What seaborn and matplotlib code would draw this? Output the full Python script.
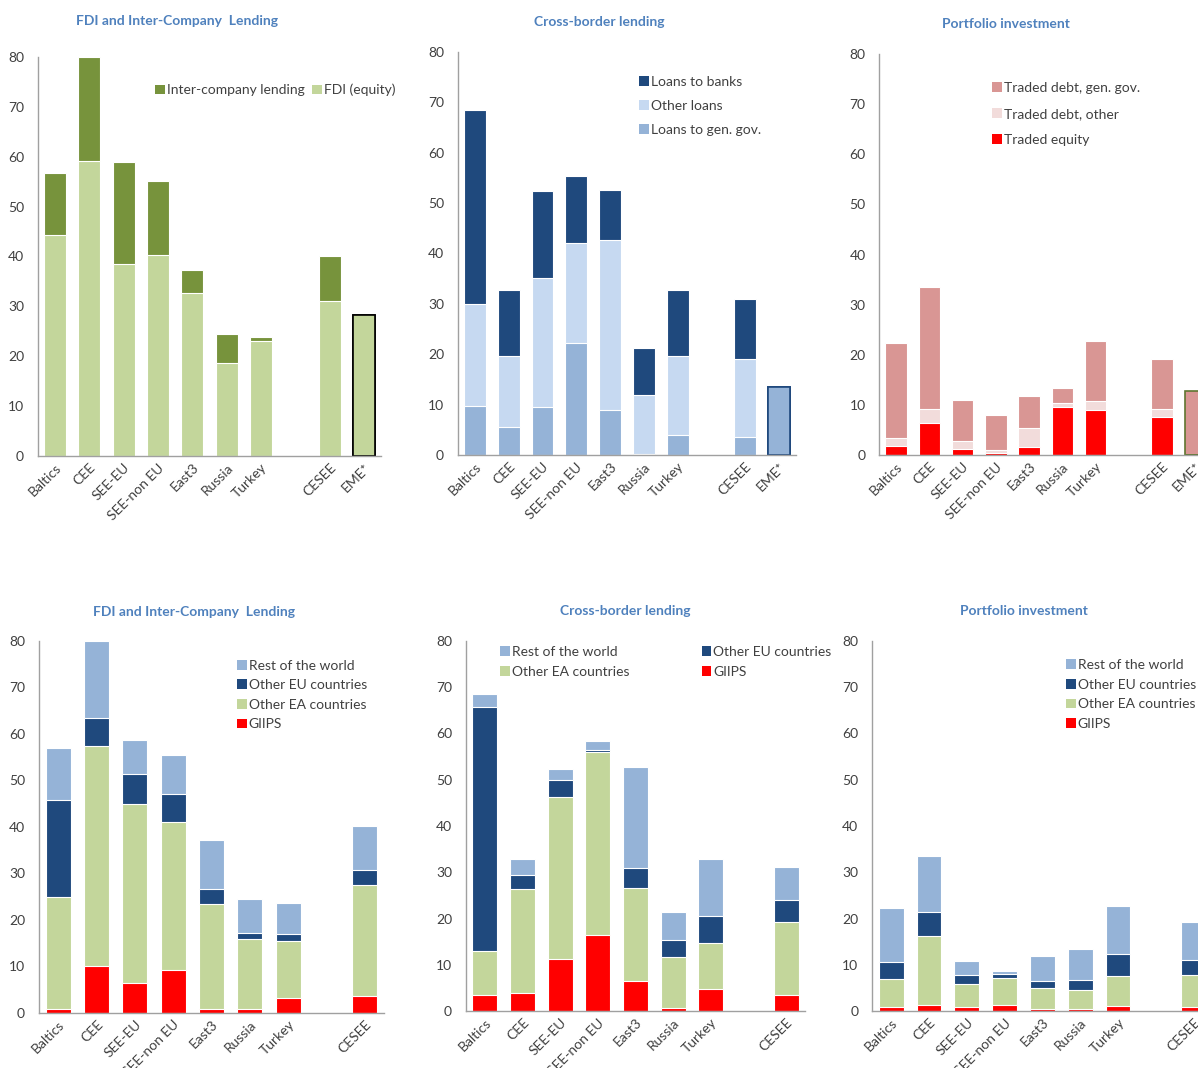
import numpy as np
import pandas as pd
import seaborn as sns
import matplotlib.pyplot as plt
from matplotlib.patches import Patch

sns.set_style("white")
plt.rcParams['font.family'] = ['Lato', 'DejaVu Sans']

# categories
cats_top = ["Baltics", "CEE", "SEE-EU", "SEE-non EU", "East3", "Russia", "Turkey", "CESEE", "EME*"]
cats_bot = ["Baltics", "CEE", "SEE-EU", "SEE-non EU", "East3", "Russia", "Turkey", "CESEE"]
order_top = ["Baltics", "CEE", "SEE-EU", "SEE-non EU", "East3", "Russia", "Turkey", " ", "CESEE", "EME*"]
order_bot = ["Baltics", "CEE", "SEE-EU", "SEE-non EU", "East3", "Russia", "Turkey", " ", "CESEE"]

# top row: by instrument
fdi_equity = [44.3, 59.2, 38.4, 40.3, 32.7, 18.6, 23.1, 31.0, 28.2]
inter_company = [12.5, 20.8, 20.6, 14.9, 4.6, 5.8, 0.7, 9.2, 0.0]

loans_gov = [9.8, 5.6, 9.5, 22.3, 8.9, 0.2, 4.0, 3.6, 13.5]
loans_other = [20.1, 14.1, 25.6, 19.7, 33.7, 11.7, 15.7, 15.4, 0.0]
loans_banks = [38.6, 13.1, 17.3, 13.3, 10.0, 9.4, 13.1, 11.9, 0.0]

traded_equity = [1.7, 6.3, 1.2, 0.3, 1.5, 9.5, 8.9, 7.5, 0.0]
debt_other = [1.7, 2.8, 1.6, 0.6, 3.8, 0.8, 1.9, 1.6, 0.0]
debt_gov = [18.9, 24.5, 8.2, 7.1, 6.5, 3.0, 11.9, 10.0, 12.8]

# bottom row: by creditor region
fdi_giips = [0.9, 10.0, 6.3, 9.2, 0.9, 0.9, 3.1, 3.7]
fdi_ea = [24.0, 47.5, 38.6, 31.8, 22.5, 15.0, 12.3, 23.8]
fdi_eu = [20.9, 5.9, 6.5, 6.1, 3.2, 1.3, 1.5, 3.2]
fdi_row = [11.1, 16.6, 7.4, 8.3, 10.5, 7.2, 6.8, 9.4]

cbl_giips = [3.4, 3.8, 11.2, 16.4, 6.5, 0.7, 4.7, 3.4]
cbl_ea = [9.6, 22.6, 35.1, 39.5, 20.1, 11.0, 9.9, 15.8]
cbl_eu = [52.7, 3.0, 3.6, 0.5, 4.4, 3.7, 6.0, 4.9]
cbl_row = [2.9, 3.5, 2.5, 1.9, 21.8, 5.9, 12.3, 7.0]

pi_giips = [0.8, 1.4, 0.8, 1.2, 0.4, 0.4, 1.0, 0.8]
pi_ea = [6.1, 14.9, 5.0, 6.0, 4.6, 4.1, 6.6, 7.0]
pi_eu = [3.7, 5.0, 2.0, 0.9, 1.5, 2.2, 4.8, 3.2]
pi_row = [11.6, 12.3, 3.0, 0.5, 5.5, 6.6, 10.3, 8.2]

C_LGREEN = "#C3D69B"
C_DGREEN = "#77933C"
C_NAVY = "#1F497D"
C_PALEBLUE = "#C6D9F1"
C_MIDBLUE = "#95B3D7"
C_PINK = "#D99694"
C_PALEPINK = "#F2DCDB"
C_RED = "#FF0000"
TITLE_C = "#4F81BD"
TEXT_C = "#404040"

W, H = 1198, 1068
fig = plt.figure(figsize=(W / 100, H / 100), dpi=100)


def px_ax(x0, x1, ytop, ybot):
    return fig.add_axes([x0 / W, 1 - ybot / H, (x1 - x0) / W, (ybot - ytop) / H])


def stacked(ax, cats, order, layers, colors, width):
    df = pd.DataFrame({"cat": cats})
    running = np.zeros(len(cats))
    tops = []
    for vals in layers:
        running = running + np.array(vals)
        tops.append(running.copy())
    # draw from the total down so each lower segment covers the one above
    for top, col in reversed(list(zip(tops, colors))):
        sns.barplot(x=df["cat"], y=top, order=order, color=col, saturation=1,
                    width=width, edgecolor="white", linewidth=0.8,
                    errorbar=None, ax=ax)


def style(ax, title, tx, ty):
    ax.set_ylim(0, 80)
    ax.set_yticks(range(0, 81, 10))
    ax.set_xlabel("")
    ax.set_ylabel("")
    for s in ["top", "right"]:
        ax.spines[s].set_visible(False)
    for s in ["left", "bottom"]:
        ax.spines[s].set_color("#A0A0A0")
        ax.spines[s].set_linewidth(1.0)
    ax.tick_params(axis="both", length=0, labelsize=10, colors=TEXT_C)
    ax.tick_params(axis="y", pad=10)
    ax.tick_params(axis="x", pad=4)
    labels = [t.get_text() for t in ax.get_xticklabels()]
    ax.set_xticks(range(len(labels)))
    ax.set_xticklabels(labels, rotation=45, ha="right", rotation_mode="anchor")
    fig.text(tx / W, 1 - ty / H, title, ha="center", va="center",
             fontsize=10, fontweight="bold", color=TITLE_C)


def legend(ax, items, cx, cy, ncol=1, spacing=0.6, colspace=0.6):
    handles = [Patch(facecolor=c, edgecolor="none", label=l) for l, c in items]
    ax.legend(handles=handles, loc="center left", bbox_to_anchor=(cx / W, 1 - cy / H),
              bbox_transform=fig.transFigure, frameon=False, ncol=ncol,
              handlelength=0.7, handleheight=0.7, handletextpad=0.15,
              labelspacing=spacing, columnspacing=colspace, borderpad=0,
              borderaxespad=0, fontsize=10, labelcolor=TEXT_C)


def outline_bar(ax, pos, color):
    for p in ax.patches:
        if abs(p.get_x() + p.get_width() / 2 - pos) < 0.05:
            p.set_edgecolor(color)
            p.set_linewidth(1.2)


# top-left
ax1 = px_ax(38, 381, 57, 456)
stacked(ax1, cats_top, order_top, [fdi_equity, inter_company], [C_LGREEN, C_DGREEN], 0.64)
style(ax1, "FDI and Inter-Company  Lending", 177, 21)
outline_bar(ax1, 9, "#000000")
legend(ax1, [("Inter-company lending", C_DGREEN), ("FDI (equity)", C_LGREEN)], 155, 90,
       ncol=2, colspace=0.55)

# top-middle
ax2 = px_ax(458, 796, 52, 455)
stacked(ax2, cats_top, order_top, [loans_gov, loans_other, loans_banks],
        [C_MIDBLUE, C_PALEBLUE, C_NAVY], 0.64)
style(ax2, "Cross-border lending", 599, 22)
outline_bar(ax2, 9, C_NAVY)
legend(ax2, [("Loans to banks", C_NAVY), ("Other loans", C_PALEBLUE),
             ("Loans to gen. gov.", C_MIDBLUE)], 639, 106, spacing=0.85)

# top-right
ax3 = px_ax(879.5, 1212, 54, 455)
stacked(ax3, cats_top, order_top, [traded_equity, debt_other, debt_gov],
        [C_RED, C_PALEPINK, C_PINK], 0.64)
style(ax3, "Portfolio investment", 1006, 24)
outline_bar(ax3, 9, "#5F7530")
legend(ax3, [("Traded debt, gen. gov.", C_PINK), ("Traded debt, other", C_PALEPINK),
             ("Traded equity", C_RED)], 992, 114, spacing=1.0)

region_items = [("Rest of the world", C_MIDBLUE), ("Other EU countries", C_NAVY),
                ("Other EA countries", C_LGREEN), ("GIIPS", C_RED)]
region_colors = [C_RED, C_LGREEN, C_NAVY, C_MIDBLUE]

# bottom-left
ax4 = px_ax(39, 384, 641, 1012.7)
stacked(ax4, cats_bot, order_bot, [fdi_giips, fdi_ea, fdi_eu, fdi_row], region_colors, 0.66)
style(ax4, "FDI and Inter-Company  Lending", 194, 612)
legend(ax4, region_items, 237, 695, spacing=0.55)

# bottom-middle
ax5 = px_ax(466, 805, 641, 1011)
stacked(ax5, cats_bot, order_bot, [cbl_giips, cbl_ea, cbl_eu, cbl_row], region_colors, 0.66)
style(ax5, "Cross-border lending", 625, 611)
legend(ax5, [region_items[0], region_items[2], region_items[1], region_items[3]],
       500, 662, ncol=2, spacing=0.6, colspace=5.2)

# bottom-right
ax6 = px_ax(872.3, 1212.5, 641, 1011)
stacked(ax6, cats_bot, order_bot, [pi_giips, pi_ea, pi_eu, pi_row], region_colors, 0.66)
style(ax6, "Portfolio investment", 1024, 611)
legend(ax6, region_items, 1066, 694.5, spacing=0.55)

fig.savefig("out.png", dpi=100)
